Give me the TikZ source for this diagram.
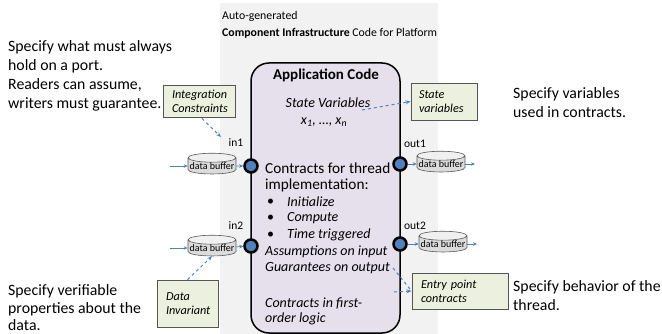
\documentclass[tikz,border=0pt]{standalone}
\usepackage{fontspec}
\setmainfont{Carlito}
\usetikzlibrary{shapes.geometric,arrows.meta}
\definecolor{bggray}{HTML}{F2F2F2}
\definecolor{appfill}{HTML}{E5E0EC}
\definecolor{notefill}{HTML}{EBF1DE}
\definecolor{noteline}{HTML}{555555}
\definecolor{portblue}{HTML}{4F81BD}
\definecolor{flowblue}{HTML}{4F81BD}
\tikzset{
  appbox/.style={draw=black,line width=1.5pt,fill=appfill,rounded corners=18pt},
  port/.style={circle,draw=black,line width=2.5pt,fill=portblue,minimum size=13pt,inner sep=0pt},
  buffer/.style={cylinder,shape border rotate=90,aspect=0.2,draw=gray!70!black,line width=0.6pt,
    cylinder uses custom fill,cylinder body fill=gray!28,cylinder end fill=gray!12,
    minimum width=48pt,minimum height=15pt,inner sep=0pt,font=\fontsize{10}{10}\selectfont},
  note/.style={draw=noteline,fill=notefill,line width=0.9pt,align=left,inner xsep=9pt,
    font=\fontsize{12.2}{14}\selectfont\itshape},
  flow/.style={draw=flowblue,line width=0.7pt,-{Stealth[length=4pt,width=3.5pt]}},
  link/.style={draw=flowblue,line width=1pt,dashed,-{Stealth[length=5pt,width=4pt]}},
  txt/.style={anchor=west,inner sep=0pt},
  side/.style={anchor=west,inner sep=0pt,align=left,font=\fontsize{15.8}{19}\selectfont},
}
\begin{document}
\begin{tikzpicture}[x=1pt,y=-1pt]
\useasboundingbox (0,0) rectangle (662,334);
% platform infrastructure
\fill[bggray] (220,3) rectangle (438,334);
\node[txt,font=\fontsize{11.8}{14}\selectfont] (auto) at (222,16) {Auto-generated};
\node[txt,font=\fontsize{11.8}{14}\selectfont] (infra) at (222,33) {\textbf{Component Infrastructure} Code for Platform};
% application code
\node[appbox,minimum width=149pt,minimum height=270pt] (app) at (325.5,198) {};
\node[font=\fontsize{15}{17}\selectfont\bfseries] (title) at (326,75) {Application Code};
\node[font=\fontsize{14}{16}\selectfont\itshape] (state) at (328,103) {State Variables};
\node[font=\fontsize{14}{16}\selectfont\itshape] (xs) at (324,122) {x\textsubscript{1}, \dots, x\textsubscript{n}};
\node[txt,font=\fontsize{15.3}{17}\selectfont] (ct1) at (265,168) {Contracts for thread};
\node[txt,font=\fontsize{15.3}{17}\selectfont] (ct2) at (265,185) {implementation:};
\foreach \y/\t [count=\i] in {202/Initialize,218/Compute,235/Time triggered}{
  \node[txt,font=\fontsize{14}{16}\selectfont] (bul\i) at (267,\y) {\textbullet};
  \node[txt,font=\fontsize{14}{16}\selectfont\itshape] (it\i) at (287,\y) {\t};
}
\foreach \y/\t [count=\i] in {252/Assumptions on input,268/Guarantees on output,303/Contracts in first-,319/order logic}
  \node[txt,font=\fontsize{14}{16}\selectfont\itshape] (ln\i) at (265,\y) {\t};
% ports and buffers
\node[port] (in1) at (251,166) {};
\node[port] (in2) at (251,246) {};
\node[port] (out1) at (400,164) {};
\node[port] (out2) at (400,244) {};
\node[font=\fontsize{11.5}{13}\selectfont] (lin1) at (236,143) {in1};
\node[font=\fontsize{11.5}{13}\selectfont] (lin2) at (236,226) {in2};
\node[font=\fontsize{11.5}{13}\selectfont] (lout1) at (415,144) {out1};
\node[font=\fontsize{11.5}{13}\selectfont] (lout2) at (415,226) {out2};
\node[buffer] (b1) at (212,166) {data buffer};
\node[buffer] (b2) at (212,248) {data buffer};
\node[buffer] (b3) at (441,164) {data buffer};
\node[buffer] (b4) at (443,244) {data buffer};
\coordinate (src1) at (170,166);
\coordinate (src2) at (170,248);
\coordinate (dst1) at (475,164);
\coordinate (dst2) at (477,244);
\draw[flow] (src1) -- (b1);
\draw[flow] (src2) -- (b2);
\draw[flow] (b1) -- (in1);
\draw[flow] (b2) -- (in2);
\draw[flow] (out1) -- (b3);
\draw[flow] (out2) -- (b4);
\draw[flow] (b3) -- (dst1);
\draw[flow] (b4) -- (dst2);
% callouts
\node[note,minimum width=72pt,minimum height=32pt,text width=54pt] (integ) at (199,101) {Integration\\Constraints};
\node[note,minimum width=66pt,minimum height=37pt,text width=50pt,inner xsep=8pt] (svars) at (444,101.5) {State\\variables};
\node[note,minimum width=96pt,minimum height=36pt,text width=78pt] (entry) at (460,291) {Entry point\\contracts};
\node[note,minimum width=61pt,minimum height=47pt,text width=43pt] (dinv) at (187.5,303.5) {Data\\Invariant};
\coordinate (toin1) at (221,137);
\coordinate (fromsv) at (362,110);
\coordinate (fromg) at (393,268);
\coordinate (fromc) at (394,292);
\draw[link] (integ.south) ++(3,1) -- (toin1);
\draw[link] (fromsv) -- (svars.west);
\draw[link,-] (fromg) -- (entry.west);
\draw[link] (fromc) -- (entry.west);
\draw[link] (dinv.north) -- (b2.south);
% explanations
\node[side] (porttxt) at (8,75.5) {Specify what must always\\hold on a port.\\Readers can assume,\\writers must guarantee.};
\node[side] (vartxt) at (513,103) {Specify variables\\used in contracts.};
\node[side] (behtxt) at (513,296) {Specify behavior of the\\thread.};
\node[side,font=\fontsize{15.8}{17.5}\selectfont] (datatxt) at (8,308) {Specify verifiable\\properties about the\\data.};
\end{tikzpicture}
\end{document}
